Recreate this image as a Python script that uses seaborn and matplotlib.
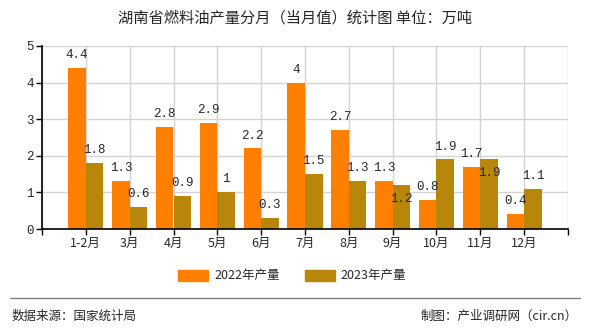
import matplotlib
matplotlib.use('Agg')
import matplotlib.pyplot as plt
import seaborn as sns
import pandas as pd
from matplotlib.patches import Patch
from matplotlib.lines import Line2D

months = ['1-2月', '3月', '4月', '5月', '6月', '7月', '8月', '9月', '10月', '11月', '12月']
prod_2022 = [4.4, 1.3, 2.8, 2.9, 2.2, 4, 2.7, 1.3, 0.8, 1.7, 0.4]
prod_2023 = [1.8, 0.6, 0.9, 1, 0.3, 1.5, 1.3, 1.2, 1.9, 1.9, 1.1]
series_names = ['2022年产量', '2023年产量']
colors = ['#FF8000', '#B8860B']
y_ticks = [0, 1, 2, 3, 4, 5]

df = pd.DataFrame({
    '月份': months * 2,
    '产量': prod_2022 + prod_2023,
    '系列': [series_names[0]] * len(months) + [series_names[1]] * len(months),
})

sns.set_theme(style='white')
plt.rcParams['font.family'] = ['Noto Sans CJK SC', 'DejaVu Sans']

fig = plt.figure(figsize=(5.9, 3.3), dpi=100)
ax = fig.add_axes([42 / 590, 1 - 229 / 330, 526 / 590, 183 / 330])

sns.barplot(data=df, x='月份', y='产量', hue='系列', palette=colors,
            width=0.8, saturation=1, ax=ax, legend=False, linewidth=0, edgecolor='none')

ax.set_xlim(-1, len(months))
ax.set_ylim(0, 5)
ax.set_xticks(range(-1, len(months) + 1))
ax.set_xticklabels([''] + months + [''])
ax.set_yticks(y_ticks)
ax.set_yticklabels([str(t) for t in y_ticks], family='Liberation Mono')
ax.set_xlabel('')
ax.set_ylabel('')
ax.set_axisbelow(True)
ax.grid(True, color='#d3d3d3', lw=1)
for s in ['top', 'right']:
    ax.spines[s].set_visible(False)
for s in ['left', 'bottom']:
    ax.spines[s].set_color('black')
    ax.spines[s].set_linewidth(1.2)
ax.tick_params(axis='both', direction='out', length=4, width=1, color='black',
               labelsize=9, pad=2, bottom=True, left=True)

# value labels; the second series' label goes inside its bar when it would collide
c22, c23 = ax.containers[0], ax.containers[1]
ax.bar_label(c22, fmt='%g', padding=5, fontsize=9, family='Liberation Mono')
for i, (bar, v22, v23) in enumerate(zip(c23, prod_2022, prod_2023)):
    inside = abs(v23 - v22) < 0.3
    ax.bar_label(c23, labels=[f'{v:g}' if j == i else '' for j, v in enumerate(prod_2023)],
                 padding=-14 if inside else 5, fontsize=9, family='Liberation Mono')

handles = [Patch(color=c, label=n) for c, n in zip(colors, series_names)]
fig.legend(handles=handles, loc='center', bbox_to_anchor=(0.495, 1 - 276 / 330), ncol=2,
           frameon=False, fontsize=9, handlelength=2.4, handleheight=1.0,
           columnspacing=2.0, handletextpad=0.5)

fig.text(0.5, 1 - 18 / 330, '湖南省燃料油产量分月（当月值）统计图 单位：万吨',
         ha='center', va='center', fontsize=11)

fig.add_artist(Line2D([10 / 590, 580 / 590], [1 - 298 / 330, 1 - 298 / 330],
                      color='#808080', lw=1))
fig.text(12 / 590, 1 - 316 / 330, '数据来源：国家统计局', ha='left', va='center', fontsize=9)
fig.text(578 / 590, 1 - 316 / 330, '制图：产业调研网（cir.cn）', ha='right', va='center', fontsize=9)

fig.savefig('out.png', dpi=100)
